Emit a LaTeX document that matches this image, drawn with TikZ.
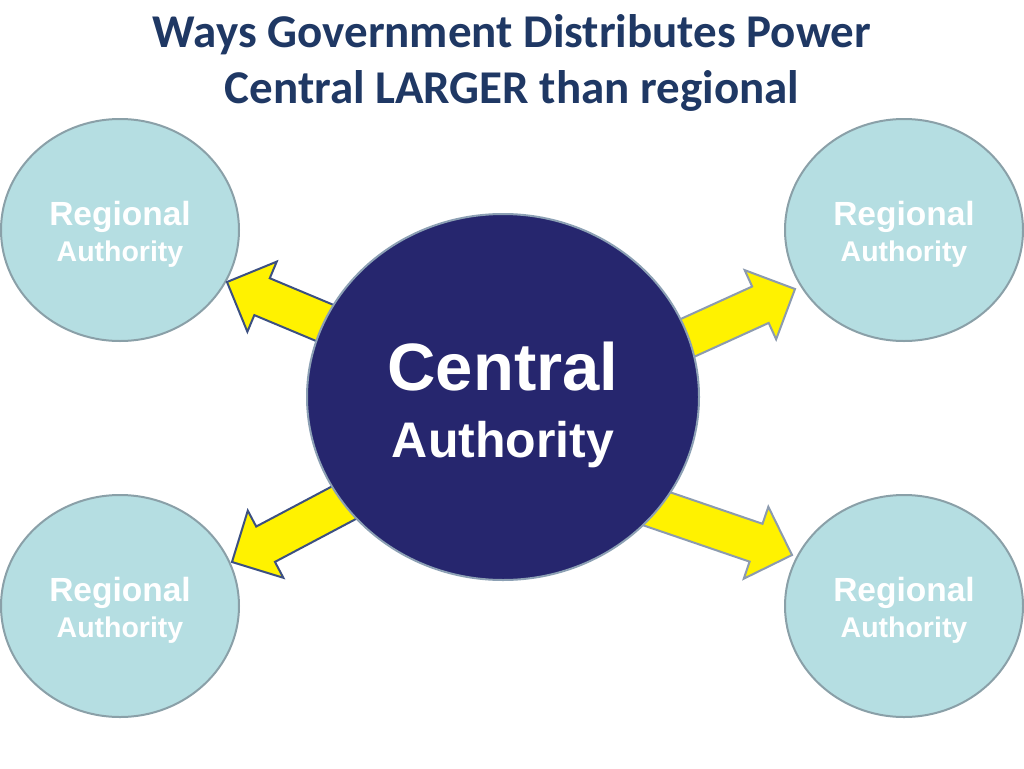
\documentclass[tikz,border=0pt]{standalone}
\usepackage{fontspec}
\setmainfont{Liberation Sans}
\newfontfamily\titlefont{Carlito}
\usetikzlibrary{shapes.geometric,calc}
\definecolor{titleblue}{RGB}{31,56,100}
\definecolor{navy}{RGB}{38,38,110}
\definecolor{navyedge}{RGB}{140,160,180}
\definecolor{teal}{RGB}{181,222,226}
\definecolor{tealedge}{RGB}{138,160,168}
\definecolor{arrowdark}{RGB}{60,80,130}
\definecolor{arrowlight}{RGB}{140,155,175}
\newcommand\yarr[3]{%
  \coordinate (hb) at ($(#2)!38pt!(#1)$);
  \draw[#3] ($(#1)!20pt!90:(#2)$) -- ($(hb)!20pt!90:(#2)$) -- ($(hb)!38pt!90:(#2)$) -- (#2)
    -- ($(hb)!38pt!-90:(#2)$) -- ($(hb)!20pt!-90:(#2)$) -- ($(#1)!20pt!-90:(#2)$) -- cycle;}
\tikzset{
  regional/.style={ellipse, draw=tealedge, line width=2pt, fill=teal, minimum width=238pt, minimum height=222pt, inner sep=0pt},
  central/.style={ellipse, draw=navyedge, line width=2pt, fill=navy, minimum width=392pt, minimum height=366pt, inner sep=0pt},
  bigtxt/.style={text=white, font=\bfseries\fontsize{33.5}{36}\selectfont, anchor=base, inner sep=0pt},
  smalltxt/.style={text=white, font=\bfseries\fontsize{28.5}{30}\selectfont, anchor=base, inner sep=0pt},
  titletxt/.style={text=titleblue, font=\titlefont\bfseries\fontsize{47}{52}\selectfont, anchor=base, inner sep=0pt},
  yellowdark/.style={fill=yellow, draw=arrowdark, line width=2pt, line join=miter},
  yellowlight/.style={fill=yellow, draw=arrowlight, line width=2pt, line join=miter}
}
\begin{document}
\begin{tikzpicture}[x=1pt,y=-1pt]
\useasboundingbox (0,0) rectangle (1024,768);
\fill[white] (0,0) rectangle (1024,768);
% title
\node[titletxt] (t1) at (512,48) {Ways Government Distributes Power};
\node[titletxt] (t2) at (512,103) {Central LARGER than regional};
% regional circles
\node[regional] (rtl) at (120,230) {};
\node[regional] (rtr) at (904,230) {};
\node[regional] (rbl) at (120,606) {};
\node[regional] (rbr) at (904,606) {};
% arrows
\coordinate (stl) at (504,398);
\coordinate (ttl) at (227,282);
\coordinate (str) at (520,414);
\coordinate (ttr) at (795,289);
\coordinate (sbl) at (500,420);
\coordinate (tbl) at (232,562);
\coordinate (sbr) at (508,458);
\coordinate (tbr) at (792,555);
\yarr{stl}{ttl}{yellowdark}
\yarr{str}{ttr}{yellowlight}
\yarr{sbl}{tbl}{yellowdark}
\yarr{sbr}{tbr}{yellowlight}
% central
\node[central] (c) at (503,397) {};
\node[text=white, font=\bfseries\fontsize{67}{70}\selectfont, anchor=base, inner sep=0pt] (c1) at (503,390) {Central};
\node[text=white, font=\bfseries\fontsize{50}{54}\selectfont, anchor=base, inner sep=0pt] (c2) at (503,457) {Authority};
% regional labels
\node[bigtxt] (l1a) at (120,225) {Regional};
\node[smalltxt] (l1b) at (120,261) {Authority};
\node[bigtxt] (l2a) at (904,225) {Regional};
\node[smalltxt] (l2b) at (904,261) {Authority};
\node[bigtxt] (l3a) at (120,601) {Regional};
\node[smalltxt] (l3b) at (120,637) {Authority};
\node[bigtxt] (l4a) at (904,601) {Regional};
\node[smalltxt] (l4b) at (904,637) {Authority};
\end{tikzpicture}
\end{document}
